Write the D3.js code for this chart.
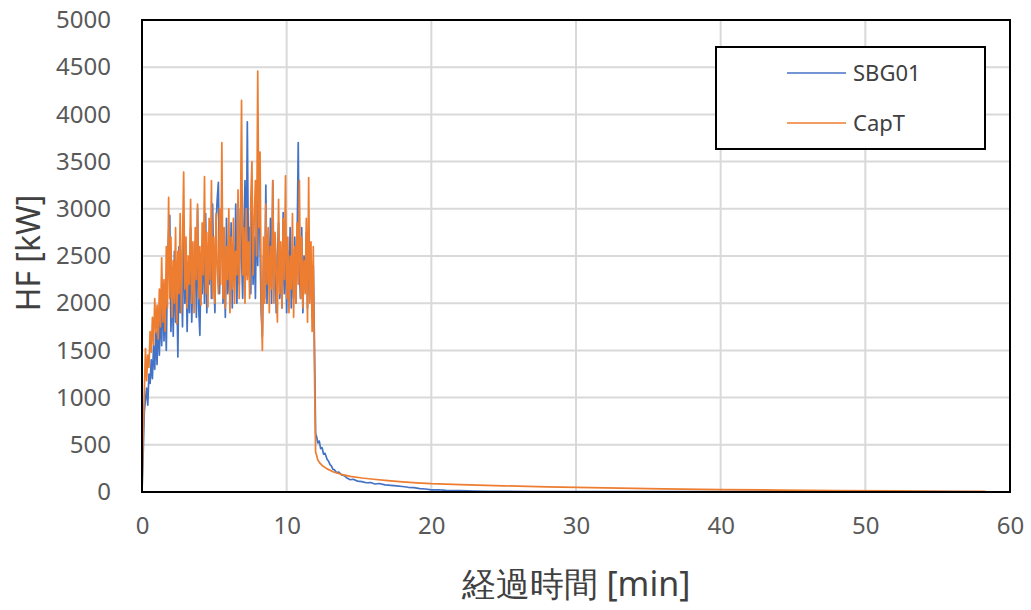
<!DOCTYPE html>
<html>
<head>
<meta charset="utf-8">
<script src="https://cdn.jsdelivr.net/npm/d3@7"></script>
<style>
  body { margin: 0; background: #fff; }
  text { font-family: "Noto Sans", "Open Sans", sans-serif; }
</style>
</head>
<body>
<div class="chart"></div>
<script>
// sample interval (min) of the burning phase, 0 .. 12 min
const dt = 0.08;

// burning phase, CapT [kW]
const capBurn = [0, 620, 1050, 1520, 1180, 1450, 1320, 1700, 1480, 1850,
  1560, 2050, 1690, 1980, 1620, 2150, 1750, 2480, 1800, 2250,
  1700, 2600, 1950, 3120, 2050, 2700, 1850, 2450, 2000, 2800,
  1780, 2550, 2100, 2950, 1900, 2600, 3390, 2150, 2700, 1950,
  2500, 2200, 3100, 2000, 2650, 1900, 2800, 2250, 3050, 2050,
  2600, 1980, 2850, 2300, 3340, 2100, 2750, 1960, 2900, 2250,
  3300, 2050, 2700, 2000, 2950, 2400, 2100, 3000, 2200, 3700,
  2050, 2800, 1950, 2600, 2250, 3000, 1900, 2700, 2150, 2900,
  2000, 2550, 2300, 3200, 2050, 2750, 4150, 2300, 2800, 2000,
  3000, 2250, 2650, 2050, 3100, 3500, 2300, 2900, 3300, 2500,
  4460, 2800, 3600, 2100, 1500, 2700, 2000, 3050, 2200, 2800,
  1900, 2600, 2150, 3300, 2000, 2750, 2300, 1800, 3100, 2100,
  2650, 1950, 2900, 2250, 3350, 2050, 2700, 1900, 2500, 2150,
  2950, 1850, 2600, 2000, 2850, 2200, 3300, 2050, 2700, 1950,
  2450, 2100, 2900, 1800, 3330, 2000, 2650, 1700, 2600, 1300, 420];

// burning phase, SBG01 [kW]
const sbgBurn = [0, 400, 850, 980, 1100, 920, 1250, 1150, 1400, 1200,
  1550, 1300, 1700, 1350, 1850, 1450, 2000, 1550, 2200, 1600,
  2050, 1500, 2400, 2750, 2930, 1700, 2300, 1650, 2550, 1800,
  2250, 1430, 2600, 1900, 2450, 1750, 2900, 2000, 2500, 1700,
  2350, 1900, 2800, 1800, 2450, 2100, 2650, 1850, 3000, 1950,
  1660, 2500, 2100, 2750, 2000, 2950, 1900, 2550, 2200, 2800,
  2050, 3050, 2300, 1900, 2850, 3100, 3280, 2100, 2700, 2950,
  2000, 2600, 1850, 2900, 2100, 2500, 2000, 2850, 1950, 2600,
  2250, 3050, 2000, 2700, 2200, 3000, 2500, 2050, 2750, 3300,
  2300, 3920, 2400, 2800, 2100, 3000, 2200, 2700, 2050, 3100,
  2400, 3600, 2600, 1900, 1650, 2500, 2050, 3250, 2000, 2700,
  2200, 2900, 2000, 3300, 2150, 2650, 1900, 2500, 2850, 2050,
  2450, 1950, 2960, 2100, 2650, 1900, 2550, 2150, 2800, 1950,
  2450, 2050, 2700, 2000, 2600, 3700, 2300, 2050, 2800, 1900,
  2500, 2150, 2750, 1950, 2600, 2100, 2500, 1850, 2400, 1600, 620];

// decay phase [min, kW]
const capTail = [[12.05, 400], [12.15, 340], [12.3, 305], [12.5, 275], [12.8, 245],
  [13.2, 215], [13.7, 190], [14.4, 165], [15.2, 148], [16, 135], [17, 120],
  [18, 108], [19, 97], [20, 88], [22, 78], [25, 65], [28, 55], [30, 48],
  [33, 40], [36, 33], [40, 26], [44, 20], [48, 15], [52, 11], [56, 8], [58.3, 6]];

const sbgTail = [[12.08, 580], [12.15, 520], [12.25, 540], [12.35, 460], [12.45, 470],
  [12.55, 400], [12.65, 410], [12.8, 345], [12.9, 325], [13.0, 290], [13.1, 275],
  [13.2, 240], [13.3, 235], [13.45, 205], [13.6, 210], [13.8, 180], [14.0, 172],
  [14.2, 145], [14.4, 130], [14.6, 135], [14.9, 115], [15.2, 110], [15.5, 98],
  [15.8, 100], [16.1, 85], [16.4, 90], [16.8, 76], [17.2, 70], [17.6, 64],
  [18.0, 58], [18.4, 50], [18.8, 46], [19.2, 36], [19.6, 32], [20.0, 22],
  [20.5, 24], [21, 17], [22, 14], [23, 10], [24, 8], [25, 6], [27, 5],
  [30, 4], [35, 3], [40, 5], [44, 9], [46, 7], [50, 4], [55, 3], [58.3, 2]];

const xTicks = [0, 10, 20, 30, 40, 50, 60];
const yTicks = [0, 500, 1000, 1500, 2000, 2500, 3000, 3500, 4000, 4500, 5000];

const series = [
  { name: "SBG01", color: "#4472C4", burn: sbgBurn, tail: sbgTail },
  { name: "CapT", color: "#ED7D31", burn: capBurn, tail: capTail }
];

const W = 1031, H = 610;
const margin = { left: 142, right: 21, top: 20, bottom: 118 };

const svg = d3.select(".chart").append("svg")
  .attr("width", W)
  .attr("height", H);

const x = d3.scaleLinear().domain([0, 60]).range([margin.left, W - margin.right]);
const y = d3.scaleLinear().domain([0, 5000]).range([H - margin.bottom, margin.top]);

// grid
svg.append("g")
  .selectAll("line.gx")
  .data(xTicks.slice(1, -1))
  .join("line")
  .attr("x1", d => x(d)).attr("x2", d => x(d))
  .attr("y1", y(0)).attr("y2", y(5000))
  .attr("stroke", "#d9d9d9").attr("stroke-width", 2);

svg.append("g")
  .selectAll("line.gy")
  .data(yTicks.slice(1, -1))
  .join("line")
  .attr("x1", x(0)).attr("x2", x(60))
  .attr("y1", d => y(d)).attr("y2", d => y(d))
  .attr("stroke", "#d9d9d9").attr("stroke-width", 2);

// lines
const line = d3.line().x(d => x(d[0])).y(d => y(d[1]));
series.forEach(s => {
  const pts = s.burn.map((v, i) => [i * dt, v]).concat(s.tail);
  svg.append("path")
    .datum(pts)
    .attr("fill", "none")
    .attr("stroke", s.color)
    .attr("stroke-width", 1.7)
    .attr("stroke-linejoin", "round")
    .attr("d", line);
});

// frame
svg.append("rect")
  .attr("x", x(0)).attr("y", y(5000))
  .attr("width", x(60) - x(0)).attr("height", y(0) - y(5000))
  .attr("fill", "none").attr("stroke", "#000").attr("stroke-width", 2);

// axes
const xAxis = svg.append("g")
  .attr("transform", `translate(0,${y(0)})`)
  .call(d3.axisBottom(x).tickValues(xTicks).tickFormat(d3.format("d")).tickSize(0).tickPadding(25));
const yAxis = svg.append("g")
  .attr("transform", `translate(${x(0)},0)`)
  .call(d3.axisLeft(y).tickValues(yTicks).tickFormat(d3.format("d")).tickSize(0).tickPadding(31));
[xAxis, yAxis].forEach(a => {
  a.select(".domain").remove();
  a.selectAll("text")
    .attr("fill", "#595959")
    .attr("font-size", 24)
    .attr("font-family", "'Noto Sans', sans-serif");
});

// axis titles
svg.append("text")
  .text("経過時間 [min]")
  .attr("x", 576).attr("y", 596)
  .attr("text-anchor", "middle")
  .attr("fill", "#404040")
  .attr("font-size", 34)
  .attr("font-family", "'Noto Sans CJK JP', 'Noto Sans', sans-serif");

svg.append("text")
  .text("HF [kW]")
  .attr("transform", "translate(40,253) rotate(-90)")
  .attr("text-anchor", "middle")
  .attr("fill", "#404040")
  .attr("font-size", 32);

// legend
const legend = svg.append("g");
legend.append("rect")
  .attr("x", 716).attr("y", 47)
  .attr("width", 269).attr("height", 102)
  .attr("fill", "#fff").attr("stroke", "#000").attr("stroke-width", 2);
series.forEach((s, i) => {
  const ly = 73 + i * 50;
  legend.append("line")
    .attr("x1", 787).attr("x2", 846)
    .attr("y1", ly).attr("y2", ly)
    .attr("stroke", s.color).attr("stroke-width", 1.4);
  legend.append("text")
    .text(s.name)
    .attr("x", 853).attr("y", ly)
    .attr("dy", "0.35em")
    .attr("fill", "#404040")
    .attr("font-size", 22);
});
</script>
</body>
</html>
